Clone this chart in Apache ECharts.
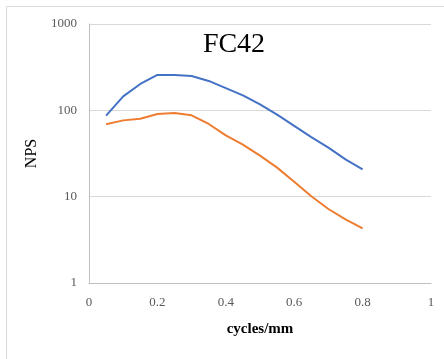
<!DOCTYPE html>
<html>
<head>
<meta charset="utf-8">
<script src="https://cdn.jsdelivr.net/npm/echarts@6/dist/echarts.min.js"></script>
<style>
    html, body { margin: 0; padding: 0; background: #fff; }
    #nps { width: 444px; height: 359px; }
</style>
</head>
<body>
<div id="nps"></div>
<script>
// cycles/mm
var freq = [0.05, 0.1, 0.15, 0.2, 0.25, 0.3, 0.35, 0.4, 0.45, 0.5, 0.55, 0.6, 0.65, 0.7, 0.75, 0.8];
// 蓝线
var npsBlue = [87, 145, 202, 257, 256, 250, 219, 181, 149, 117, 89, 66, 49, 37, 27, 20.7];
// 橙线
var npsOrange = [69, 76.5, 80, 90.7, 93, 87.5, 69.5, 51.3, 40, 29.9, 21.7, 14.9, 10.1, 7.2, 5.45, 4.3];

function pairs(xs, ys) {
    return xs.map(function(x, i) { return [x, ys[i]]; });
}

var font = '"Liberation Serif", "DejaVu Serif", serif';
var chart = echarts.init(document.getElementById('nps'));
var option = {
    animation: false,
    grid: { left: 89, right: 13, top: 24, bottom: 76, containLabel: false },
    title: {
        text: 'FC42',
        left: 229, top: 26, textAlign: 'center',
        textStyle: { fontFamily: font, fontSize: 28, fontWeight: 'normal', color: '#000' }
    },
    graphic: [
        { type: 'line', shape: { x1: 6.5, y1: 6.5, x2: 444, y2: 6.5 }, style: { stroke: '#d9d9d9', lineWidth: 1 } },
        { type: 'line', shape: { x1: 6.5, y1: 6.5, x2: 6.5, y2: 359 }, style: { stroke: '#d9d9d9', lineWidth: 1 } }
    ],
    xAxis: {
        type: 'value', min: 0, max: 1, interval: 0.2,
        name: 'cycles/mm', nameLocation: 'middle', nameGap: 39,
        nameTextStyle: { fontFamily: font, fontSize: 15, fontWeight: 'bold', color: '#000' },
        axisLine: { lineStyle: { color: '#bfbfbf' } },
        axisTick: { show: false },
        axisLabel: { fontFamily: font, fontSize: 13, color: '#595959', margin: 13 },
        splitLine: { show: false }
    },
    yAxis: {
        type: 'log', min: 1, max: 1000, logBase: 10,
        name: 'NPS', nameLocation: 'middle', nameGap: 46,
        nameTextStyle: { fontFamily: font, fontSize: 16, color: '#000' },
        axisLine: { show: true, lineStyle: { color: '#bfbfbf' } },
        axisTick: { show: false },
        axisLabel: {
            fontFamily: font, fontSize: 13, color: '#595959', margin: 12,
            formatter: function(v) { return String(Math.round(v)); }
        },
        splitLine: { lineStyle: { color: '#d9d9d9' } },
        minorSplitLine: { show: false }
    },
    series: [{
        name: 'blue', type: 'line', showSymbol: false, smooth: false,
        data: pairs(freq, npsBlue),
        lineStyle: { color: '#4472c4', width: 2 }, itemStyle: { color: '#4472c4' }
    }, {
        name: 'orange', type: 'line', showSymbol: false, smooth: false,
        data: pairs(freq, npsOrange),
        lineStyle: { color: '#ed7d31', width: 2 }, itemStyle: { color: '#ed7d31' }
    }]
};
chart.setOption(option);
</script>
</body>
</html>
